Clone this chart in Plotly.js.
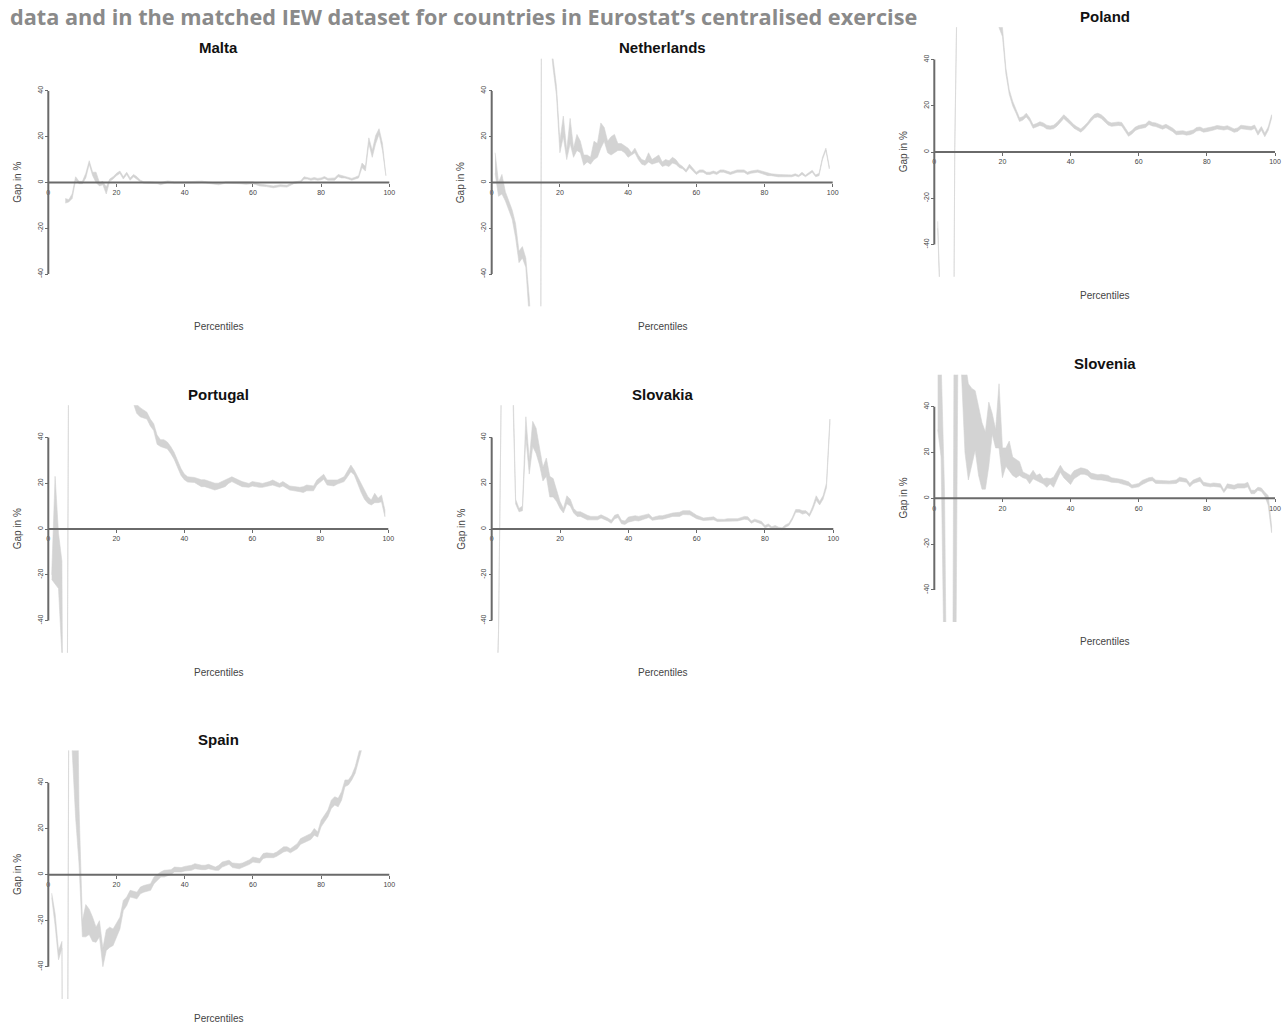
<!DOCTYPE html>
<html><head><meta charset="utf-8">
<script src="https://cdn.plot.ly/plotly-3.0.1.min.js"></script>
<style>html,body{margin:0;padding:0;background:#fff;}#chart{width:1288px;height:1030px;}</style>
</head><body><div id="chart"></div>
<script>
// ---------- text ----------
const headerText = "data and in the matched IEW dataset for countries in Eurostat’s centralised exercise";
const countries = ["Malta", "Netherlands", "Poland", "Portugal", "Slovakia", "Slovenia", "Spain"];
const xTicks = [0, 20, 40, 60, 80, 100];
const yTicks = [-40, -20, 0, 20, 40];
const xAxisTitle = "Percentiles";
const yAxisTitle = "Gap in %";

// ---------- data: percentile, lower bound, upper bound of the gap band ----------
const maltaPct  = [5,6,7,8,9,10,11,12,13,14,15,16,17,18,19,20,21,22,23,24,25,26,27,28,30,32,33,35,37,40,43,45,47,50,52,54,56,58,60,62,64,66,68,70,72,74,75,76,77,78,79,80,81,82,84,85,86,87,88,89,90,91,92,93,94,95,96,97,98,99];
const maltaLow  = [-9,-8.5,-7,1,-0.5,-0.5,2,8,3,0,-1.5,-1,-5,0.5,1.5,3,4,1.5,3.5,1,2.5,1.5,0.3,-0.3,-0.3,-0.5,-1,0,-0.3,-0.3,-0.2,0,-0.3,-1,-0.3,-0.3,-0.5,-0.8,-0.5,-1.5,-1.8,-2.3,-1.8,-2,-0.5,0,1.5,1.5,1,1.3,1,1.2,1.8,1,1,2.5,2,2,1.5,1,1.5,2,6.5,5,17,11,17,21,14,3];
const maltaHigh = [-7,-7.5,-5,2.5,0.5,0.5,4,9.5,4.5,4.5,0,0.5,-2,1.5,2.5,4,5,2.5,4.5,2,3.5,2.5,1,0.3,0.3,0,0,0.7,0.3,0.3,0.3,0.6,0.2,-0.3,0.3,0.3,0,0,0.3,-0.7,-1,-1.5,-1,-1.2,0.2,0.7,2.5,2.3,1.8,2.2,1.8,2,2.6,1.8,2,3.5,3,2.8,2.3,1.8,2.3,3,8.5,7,19.5,14,20.5,23.5,17,5];

const nethPct  = [1,2,3,4,5,6,7,8,9,10,11,12,13,14,15,16,17,18,19,20,21,22,23,24,25,26,27,28,29,30,31,32,33,34,35,36,37,38,39,40,41,42,43,44,45,46,47,48,49,50,51,52,53,54,55,56,57,58,59,60,61,62,63,64,65,66,67,68,69,70,72,74,75,76,78,80,81,82,84,86,88,89,90,91,92,93,94,95,96,97,98,99];
const nethLow  = [4,-6,-5,-8,-12,-16,-24,-35,-33,-37,-58,-80,-110,-400,400,100,65,50,38,13,20,10,17,11,14,13,7.5,9,8,10,11,15,18,13,12,13,14,14,13,11,12,13,10,8,7.5,9,8,8.5,9,7,7.5,7,8.5,8,6.5,6,4.5,6.5,5,3.5,4.5,4.5,3.5,3.5,4,3.5,4.5,4.5,4,3.5,4.5,4.5,3.5,4,4.5,3.5,3,3,2.5,2.5,2.5,3,2.5,3.5,2.5,3.5,4.5,2.5,3,10,14,6];
const nethHigh = [13,0,3.5,-4,-8,-12,-18,-30,-28,-33,-50,-70,-100,-380,420,110,70,54,42,18,29,14,28,15,21,18,12,12,11,18,17,26,24,18,20,21,17,17,16,15,13,15,12,10,9.5,13,10,11,12,9,10,9.5,11,10,8,7,5.5,8,6,4.5,5.5,5.5,4.5,4.5,5,4.5,5.5,5.5,5,4.5,5.5,5.5,4.5,5,5.5,4.5,4,3.8,3.5,3.3,3.3,3.8,3.2,4.5,3.2,4.3,5.3,3.3,4,11,15,7];

const polandPct  = [1,2,5,6,7,20,21,22,23,24,25,26,27,28,29,30,31,32,33,34,35,36,37,38,39,40,41,42,43,44,45,46,47,48,49,50,51,52,53,54,55,56,57,58,59,60,61,62,63,64,65,66,67,68,69,70,71,72,73,74,75,76,77,78,79,80,81,82,83,84,85,86,87,88,89,90,91,92,93,94,95,96,97,98,99];
const polandLow  = [-33,-80,-300,0,100,50,34,25,20,16.8,13.2,13.8,15.2,13.3,10.3,10.8,11.5,11,10,9.8,10.1,11.2,12.8,14.5,13.3,11.8,10.3,9.3,8.6,9.8,11.3,13.3,14.8,15.2,14.5,13.3,11.7,11.1,11.3,11.5,11.3,8.8,6.8,7.8,9.3,10,10.3,10.6,11.9,11.3,11,10.5,9.9,10.5,9.8,8.8,7.5,7.7,7.7,7.3,7.5,8,9.1,9.3,8.6,8.8,9,9.5,10,9.8,9.5,9.9,9.3,8.5,8.9,10.1,9.9,9.7,9.5,10.2,7.3,9.5,6.6,9.3,14.6];
const polandHigh = [-30,-76,-296,2,104,54,36.5,27,22,18.3,14.8,15.3,16.8,14.8,11.8,12.3,13.1,12.6,11.6,11.3,11.6,12.8,14.3,16.1,14.8,13.3,11.8,10.8,10,11.3,12.8,14.8,16.3,16.8,16.1,14.8,13.2,12.6,12.8,13,12.8,10.3,8.3,9.3,10.8,11.5,11.8,12.1,13.5,12.8,12.6,12,11.4,12,11.3,10.3,9,9.2,9.2,8.8,9,9.5,10.6,10.8,10.1,10.3,10.5,11,11.5,11.3,11,11.4,10.8,10,10.4,11.6,11.4,11.2,11,11.7,8.8,11,8.1,10.8,16.1];

const portugalPct  = [1,2,3,4,5,6,25,26,27,28,29,30,31,32,33,34,35,36,37,38,39,40,41,43,45,46,47,49,50,52,53,54,56,57,59,60,62,63,65,66,68,69,71,72,74,75,76,78,79,81,82,84,85,87,88,89,90,92,93,94,95,96,97,98,99];
const portugalLow  = [-22,-24,-26,-55,-300,80,55,50.5,49,48.5,48,45,43,37,36,35.5,35,33,30.5,27,23.5,21.5,20.5,20.3,18.5,18.5,18,17,17.5,18.5,19.9,20.7,19.2,18.5,18.2,18.8,18.2,18.2,18.8,19.2,18.2,18.8,17,16.7,16.3,15.9,16.7,16.7,19.2,21.7,19.2,18.8,19.6,20.7,22.8,25,23.6,16,13,11.2,10.5,11.5,11.5,11.9,5.4];
const portugalHigh = [-20,23,-2,-14,-290,90,60,54.5,53,52,51,48,46,41,39,39,38,36,33.5,30,26.5,24,22.8,22.5,21.5,21.5,21,20,20,21.4,22.1,22.8,21.4,20.7,19.9,20.7,20.2,19.9,20.7,21.4,19.9,20.7,18.8,18.5,18.2,18.5,19.2,18.8,21.4,23.9,21.4,21.4,21.4,22.8,25.7,27.9,25.7,19.5,17,14.1,12.7,15.6,13.4,14.8,8.3];

const slovakiaPct  = [1,2,3,6,7,8,9,10,11,12,13,14,15,16,17,18,19,20,21,22,23,24,25,26,28,29,31,32,34,35,36,37,38,39,40,42,43,45,46,47,49,50,52,53,55,56,58,59,60,62,63,65,66,68,69,71,72,74,75,76,77,79,80,81,82,83,84,85,86,87,88,89,90,91,92,93,94,95,96,97,98,99];
const slovakiaLow  = [-100,-46,88,70,11,7.5,8,40,24,36,33,28,21,23,14,14,12,9,7,11,10,7,5.5,5.5,4,4,4,4.8,3.5,2.5,4.5,5,2.3,2,3,3.7,3.5,4.5,5,3.8,4.3,4.3,5,5.5,5.5,6.3,6.2,5.5,4.5,3.7,3.9,4,3.3,3.2,3.2,3.5,3.5,4.3,4,2.5,3.3,2.2,0.5,1.2,0.2,0.5,0,-0.3,0.8,1.5,4,7.3,7.3,6.5,7,5.5,8.5,12.5,10.5,13,18,46];
const slovakiaHigh = [-98,-44,90,80,13,9,10,49,30,47,44,36,27,31,23,22,17,12,9,14.5,13,9,7.5,7.5,6,5.5,5.5,6.2,4.8,3.8,6,6.5,3.8,3.5,5.2,5.8,5.5,6.2,6.6,5,5.8,5.8,6.8,7,7.3,8,8,7,6,4.8,5,5.3,4.3,4.2,4.5,4.5,4.5,5.5,5.3,3.5,4.3,3.3,1.5,2.2,1,1.5,0.8,0.5,1.8,2.5,5,8.5,8.5,8,8,6.5,10,14.5,12,14.5,20,48];

const sloveniaPct  = [1,2,3,4,5,6,7,8,9,10,11,12,13,14,15,16,17,18,19,20,21,22,23,24,25,26,27,28,29,30,31,32,33,34,35,37,38,40,41,43,44,45,46,48,49,51,52,54,55,57,58,60,61,63,64,65,67,69,71,72,74,75,76,78,79,81,82,84,85,86,88,89,91,92,93,94,95,96,97,98,99];
const sloveniaLow  = [30,18,-100,-200,-300,-150,80,54,20,8,15,21,10,4,4,14,28,22,22,9,14,12,10,9,10,9,8.5,6.3,8.5,7.8,7,6.3,4.8,6.3,4.8,11.4,9,6,8.5,10.5,10.5,10,8.5,8,8,7.5,7,6.8,6.3,5.5,4.5,5,6,7.5,7.7,6.5,6.5,6.3,6.5,7.5,7,5,6.5,7.5,5.5,5,5.2,4.8,2.5,4.5,4,4.5,4.5,5,2,2,3.5,3,1,-3,-15];
const sloveniaHigh = [60,60,3,-150,-250,150,150,90,60,50,48,47,40,33,29,42,37,30,50,22,22,25,18,17,16,11.5,10.7,10,12.2,10,10.7,8.5,8.9,8.5,9.2,14.4,12,10,12,13.3,13,12.5,11,10.3,10.5,10,9,8.6,8.2,7.2,5.8,6.5,7.8,9,9.2,7.9,7.9,7.6,8,9.2,8.5,6.5,8,9.2,7,6.4,6.7,6.3,3.6,6.3,5.7,6.3,6.3,7,3.5,3.5,4.8,4.5,2.6,1.2,-12];

const spainPct  = [1,2,3,4,5,6,7,8,9,10,11,12,13,14,15,16,17,18,19,20,21,22,23,24,26,27,28,30,31,33,34,36,37,39,40,42,43,45,46,47,49,50,51,53,54,56,57,59,60,62,63,64,66,67,69,70,71,73,74,76,77,78,79,80,81,82,83,84,85,86,87,88,89,90,91,92];
const spainLow  = [-10,-22,-37,-32,-400,60,54,25,5,-27,-27,-26,-29,-29.4,-27,-40,-33,-31.6,-30.8,-27.2,-23.6,-15.6,-13.4,-9.7,-10.5,-8.3,-7.6,-6.8,-3.9,-1,-1,0.1,1.2,1.2,1.6,1.9,2.6,2.2,2.2,2.6,1.9,1.9,3.3,4.5,3.1,2.6,3.3,4.5,5.5,5.1,7,7.4,7.4,8,9.9,10.3,9.5,11.3,13.2,14.7,15.3,17.2,16.4,20.8,23,25.2,28.8,30.3,29.5,32.4,38.3,39,41.2,44.1,49.2,55];
const spainHigh = [-8,-17,-33,-29,-390,80,150,150,30,-20,-13,-15,-18.5,-22.8,-20,-32,-24,-22.8,-23.6,-20.7,-18.5,-11.2,-9.7,-6.8,-7.6,-5.4,-4.7,-3.9,-1,1.2,1.9,2.2,3.3,3.1,3.6,4.1,4.8,4.1,4.1,4.5,3.3,4.1,5.5,6.3,5.1,4.8,5.1,6.5,7.7,7,9.2,9.5,9.2,9.9,12.1,12.1,11.3,13.5,15.7,17.2,17.9,20.1,18.6,23.7,25.9,28.1,32.4,33.9,33.2,36.1,41.2,41.2,43.3,47,52.8,58];

const bands = {
  Malta: [maltaPct, maltaLow, maltaHigh],
  Netherlands: [nethPct, nethLow, nethHigh],
  Poland: [polandPct, polandLow, polandHigh],
  Portugal: [portugalPct, portugalLow, portugalHigh],
  Slovakia: [slovakiaPct, slovakiaLow, slovakiaHigh],
  Slovenia: [sloveniaPct, sloveniaLow, sloveniaHigh],
  Spain: [spainPct, spainLow, spainHigh]
};

// ---------- layout geometry (pixels of the 1288x1030 page) ----------
const W = 1288, H = 1030;
const panelPos = {
  Malta:       {x0: 48.3,  x100: 389.3, y0: 182.5, sy: 2.29},
  Netherlands: {x0: 491.7, x100: 832.7, y0: 182.5, sy: 2.29},
  Poland:      {x0: 934.3, x100: 1275,  y0: 152,   sy: 2.31},
  Portugal:    {x0: 48.3,  x100: 388.3, y0: 529,   sy: 2.29},
  Slovakia:    {x0: 491.7, x100: 833.3, y0: 529,   sy: 2.29},
  Slovenia:    {x0: 934.3, x100: 1275,  y0: 498.3, sy: 2.29},
  Spain:       {x0: 48.3,  x100: 389.3, y0: 874.7, sy: 2.30}
};
const viewX = [-4, 104], viewY = [-54, 54];
const FONT = 'Liberation Sans, Arial, Helvetica, sans-serif';
const bandColor = '#d3d3d3';
const axisColor = '#6a6a6a';

const traces = [], shapes = [], annotations = [];
const layout = {
  width: W, height: H,
  margin: {l: 0, r: 0, t: 0, b: 0},
  paper_bgcolor: '#ffffff', plot_bgcolor: 'rgba(0,0,0,0)',
  showlegend: false,
  font: {family: FONT, color: '#333'}
};

countries.forEach((c, i) => {
  const s = i === 0 ? '' : String(i + 1);
  const [pct, lo, hi] = bands[c];
  const g = panelPos[c];
  const sx = (g.x100 - g.x0) / 100;
  const left = Math.max(0, g.x0 + viewX[0] * sx), right = Math.min(W, g.x0 + viewX[1] * sx);
  const top = Math.max(0, g.y0 - viewY[1] * g.sy), bottom = Math.min(H, g.y0 - viewY[0] * g.sy);

  traces.push({
    type: 'scatter', mode: 'lines',
    x: pct.concat(pct.slice().reverse()),
    y: hi.concat(lo.slice().reverse()),
    fill: 'toself', fillcolor: bandColor,
    line: {color: bandColor, width: 0.6},
    xaxis: 'x' + s, yaxis: 'y' + s, hoverinfo: 'skip'
  });

  layout['xaxis' + s] = {
    domain: [left / W, right / W],
    range: [(left - g.x0) / sx, (right - g.x0) / sx],
    anchor: 'free', position: 1 - g.y0 / H,
    tickmode: 'array', tickvals: xTicks, ticktext: xTicks.map(String),
    ticks: 'outside', ticklen: 3, tickwidth: 1, tickcolor: axisColor,
    tickfont: {size: 7, color: '#444', family: FONT},
    showgrid: false, zeroline: false, showline: false, fixedrange: true
  };
  layout['yaxis' + s] = {
    domain: [1 - bottom / H, 1 - top / H],
    range: [(g.y0 - bottom) / g.sy, (g.y0 - top) / g.sy],
    anchor: 'free', position: g.x0 / W,
    tickmode: 'array', tickvals: yTicks, ticktext: yTicks.map(String),
    tickangle: -90,
    ticks: 'outside', ticklen: 3, tickwidth: 1, tickcolor: axisColor,
    tickfont: {size: 7, color: '#444', family: FONT},
    showgrid: false, zeroline: false, showline: false, fixedrange: true
  };

  // axis lines spanning first to last tick, drawn at the origin
  shapes.push({type: 'line', xref: 'x' + s, yref: 'y' + s,
    x0: 0, x1: 0, y0: yTicks[0], y1: yTicks[yTicks.length - 1],
    line: {color: axisColor, width: 2}});
  shapes.push({type: 'line', xref: 'x' + s, yref: 'y' + s,
    x0: xTicks[0], x1: xTicks[xTicks.length - 1], y0: 0, y1: 0,
    line: {color: axisColor, width: 2}});

  const cx = g.x0 + 50 * sx;
  annotations.push({xref: 'paper', yref: 'paper', x: cx / W, y: 1 - (g.y0 - 135) / H,
    xanchor: 'center', yanchor: 'middle', showarrow: false,
    text: '<b>' + c + '</b>', font: {size: 15, color: '#111', family: FONT}});
  annotations.push({xref: 'paper', yref: 'paper', x: cx / W, y: 1 - (g.y0 + 143.5) / H,
    xanchor: 'center', yanchor: 'middle', showarrow: false,
    text: xAxisTitle, font: {size: 10, color: '#444', family: FONT}});
  annotations.push({xref: 'paper', yref: 'paper', x: (g.x0 - 31) / W, y: 1 - g.y0 / H,
    xanchor: 'center', yanchor: 'middle', showarrow: false, textangle: -90,
    text: yAxisTitle, font: {size: 10, color: '#444', family: FONT}});
});

annotations.push({xref: 'paper', yref: 'paper', x: 8 / W, y: 1,
  xanchor: 'left', yanchor: 'top', showarrow: false,
  text: '<b>' + headerText + '</b>', font: {size: 21.7, color: '#8a8a8a', family: 'Open Sans, Noto Sans, sans-serif'}});

layout.shapes = shapes;
layout.annotations = annotations;

Plotly.newPlot('chart', traces, layout, {displayModeBar: false, staticPlot: true});
</script>
</body></html>
